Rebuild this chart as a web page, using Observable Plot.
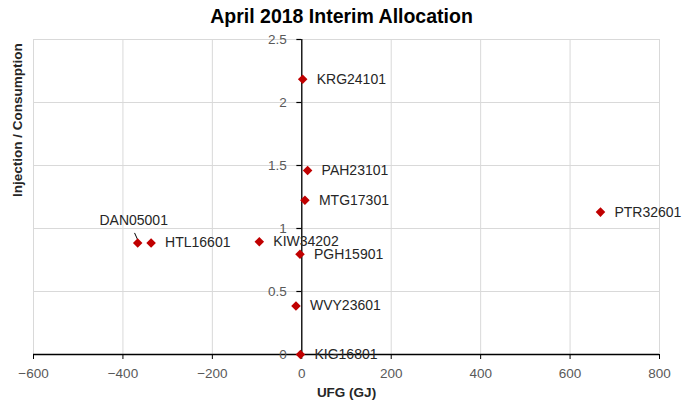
<!DOCTYPE html>
<html>
<head>
<meta charset="utf-8">
<script src="https://cdn.jsdelivr.net/npm/d3@7"></script>
<script src="https://cdn.jsdelivr.net/npm/@observablehq/plot@0.6"></script>
<style>
  body { margin: 0; background: #fff; font-family: "Liberation Sans", Arial, sans-serif; }
  #wrap { position: relative; width: 683px; height: 403px; }
  #title { position: absolute; left: 0; top: 5px; width: 683px; text-align: center; font-weight: bold; font-size: 19.5px; color: #000; }
</style>
</head>
<body>
<div id="wrap">
  <div id="title">April 2018 Interim Allocation</div>
  <div id="chart"></div>
</div>
<script>
const names = ["KRG24101","PAH23101","MTG17301","PTR32601","DAN05001","HTL16601","KIW34202","PGH15901","WVY23601","KIG16801"];
const ufg   = [2, 13, 7, 668, -367, -337, -95, -4, -13, -3];
const ratio = [2.185, 1.46, 1.225, 1.13, 0.885, 0.885, 0.895, 0.795, 0.385, 0.0];
const xTicks = [-600, -400, -200, 0, 200, 400, 600, 800];
const yTicks = [0, 0.5, 1, 1.5, 2, 2.5];

const data = names.map((n, i) => ({name: n, x: ufg[i], y: ratio[i]}));
const right = data.filter(d => d.name !== "DAN05001");
const dan = data.filter(d => d.name === "DAN05001");

const chart = Plot.plot({
  width: 683,
  height: 403,
  marginLeft: 33,
  marginRight: 24,
  marginTop: 39,
  marginBottom: 49,
  style: {fontFamily: "'Liberation Sans', Arial, sans-serif", fontSize: "13px", background: "#fff"},
  x: {domain: [-600, 800], ticks: xTicks},
  y: {domain: [0, 2.5], ticks: yTicks, axis: null},
  marks: [
    Plot.gridX(xTicks, {stroke: "#d9d9d9", strokeOpacity: 1}),
    Plot.gridY(yTicks, {stroke: "#d9d9d9", strokeOpacity: 1}),
    Plot.ruleY([0], {stroke: "#000", strokeWidth: 1.3}),
    Plot.ruleX([0], {stroke: "#000", strokeWidth: 1.3}),
    Plot.axisX(xTicks, {anchor: "bottom", tickSize: 5, tickPadding: 9, stroke: "#000", fill: "#595959", fontSize: 13.5, label: null}),
    Plot.ruleY(yTicks, {x1: -11, x2: 0, stroke: "#000", strokeWidth: 1.2}),
    Plot.text(yTicks, {x: 0, y: d => d, text: d => String(d), textAnchor: "end", dx: -15, fill: "#595959", fontSize: 13.5}),
    Plot.text(["UFG (GJ)"], {frameAnchor: "bottom", dy: 42, fontWeight: "bold", fontSize: 13.5, fill: "#262626"}),
    Plot.text(["Injection / Consumption"], {frameAnchor: "left", dx: -16, rotate: -90, fontWeight: "bold", fontSize: 13.5, fill: "#262626"}),
    Plot.link(dan, {x1: d => d.x - 7, y1: d => d.y + 0.08, x2: d => d.x + 2, y2: d => d.y + 0.01, stroke: "#000", strokeWidth: 1}),
    Plot.dot(data, {x: "x", y: "y", symbol: "diamond2", r: 4.3, fill: "#c00000", stroke: "none"}),
    Plot.text(right, {x: "x", y: "y", text: "name", textAnchor: "start", dx: 14, fill: "#262626", fontSize: 14}),
    Plot.text(dan, {x: "x", y: "y", text: "name", textAnchor: "middle", dx: -4, dy: -22, fill: "#262626", fontSize: 14})
  ]
});
document.getElementById("chart").appendChild(chart);
</script>
</body>
</html>
